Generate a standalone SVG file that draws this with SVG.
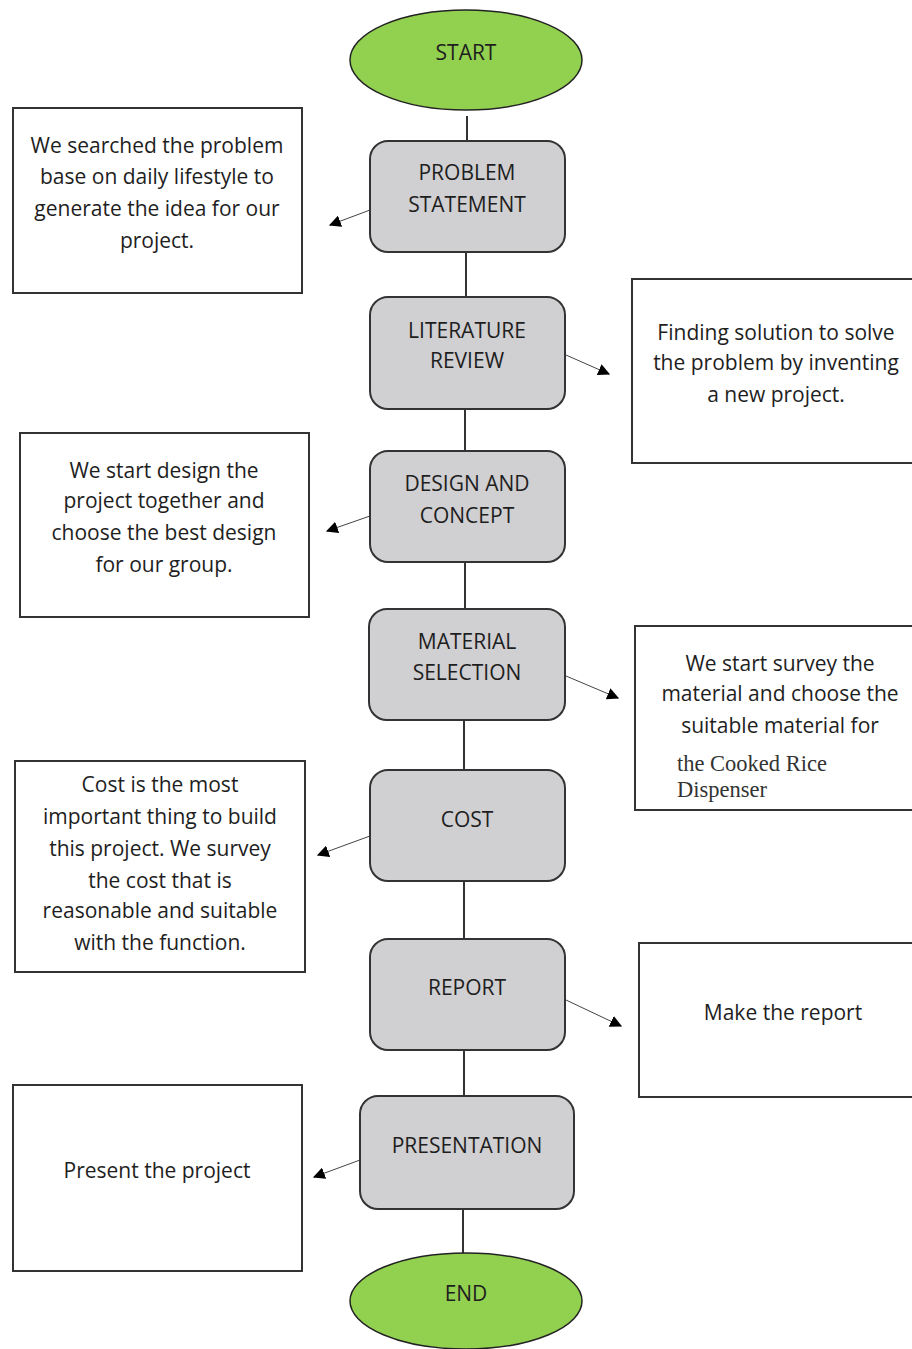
<svg xmlns="http://www.w3.org/2000/svg" width="912" height="1349" viewBox="0 0 912 1349">
<defs>
<marker id="ah" viewBox="0 0 10 10" refX="9" refY="5" markerWidth="12" markerHeight="12" markerUnits="userSpaceOnUse" orient="auto">
<path d="M0,0 L10,5 L0,10 z" fill="#000"/>
</marker>
</defs>
<style>
.term{fill:#92D050;stroke:#222;stroke-width:1.5}
.step{fill:#D0CFD1;stroke:#333;stroke-width:2}
.note{fill:#fff;stroke:#333;stroke-width:2}
.t{font-family:"Open Sans","Noto Sans","Liberation Sans",sans-serif;font-size:21px;fill:#1e1e1e;text-anchor:middle;font-weight:500}
.ts{font-family:"Liberation Serif","Times New Roman",serif;font-size:22.5px;fill:#333}
.flow{stroke:#333;stroke-width:2;fill:none}
.arr{stroke:#444;stroke-width:1;fill:none;marker-end:url(#ah)}
</style>
<rect width="912" height="1349" fill="#fff"/>
<g id="connectors">
<line class="flow" x1="467" y1="116" x2="467" y2="141"/>
<line class="flow" x1="466" y1="252" x2="466" y2="297"/>
<line class="flow" x1="465" y1="409" x2="465" y2="451"/>
<line class="flow" x1="465" y1="562" x2="465" y2="609"/>
<line class="flow" x1="464" y1="720" x2="464" y2="770"/>
<line class="flow" x1="464" y1="881" x2="464" y2="939"/>
<line class="flow" x1="464" y1="1050" x2="464" y2="1096"/>
<line class="flow" x1="463" y1="1209" x2="463" y2="1254"/>
<line class="arr" x1="370" y1="210" x2="330" y2="225"/>
<line class="arr" x1="566" y1="355" x2="609" y2="374"/>
<line class="arr" x1="370" y1="516" x2="327" y2="531"/>
<line class="arr" x1="566" y1="676" x2="618" y2="698"/>
<line class="arr" x1="370" y1="836" x2="318" y2="855"/>
<line class="arr" x1="566" y1="1000" x2="621" y2="1026"/>
<line class="arr" x1="360" y1="1160" x2="314" y2="1177"/>
</g>
<g id="start">
<ellipse class="term" cx="466" cy="60" rx="116" ry="50"/>
<text class="t" x="466" y="60">START</text>
</g>
<g id="problem-statement">
<rect class="step" x="370" y="141" width="195" height="111" rx="18"/>
<text class="t" x="467" y="180">PROBLEM</text>
<text class="t" x="467" y="212">STATEMENT</text>
</g>
<g id="literature-review">
<rect class="step" x="370" y="297" width="195" height="112" rx="18"/>
<text class="t" x="467" y="338">LITERATURE</text>
<text class="t" x="467" y="368">REVIEW</text>
</g>
<g id="design-concept">
<rect class="step" x="370" y="451" width="195" height="111" rx="18"/>
<text class="t" x="467" y="491">DESIGN AND</text>
<text class="t" x="467" y="523">CONCEPT</text>
</g>
<g id="material-selection">
<rect class="step" x="369" y="609" width="196" height="111" rx="18"/>
<text class="t" x="467" y="649">MATERIAL</text>
<text class="t" x="467" y="680">SELECTION</text>
</g>
<g id="cost">
<rect class="step" x="370" y="770" width="195" height="111" rx="18"/>
<text class="t" x="467" y="827">COST</text>
</g>
<g id="report">
<rect class="step" x="370" y="939" width="195" height="111" rx="18"/>
<text class="t" x="467" y="995">REPORT</text>
</g>
<g id="presentation">
<rect class="step" x="360" y="1096" width="214" height="113" rx="18"/>
<text class="t" x="467" y="1153">PRESENTATION</text>
</g>
<g id="end">
<ellipse class="term" cx="466" cy="1301" rx="116" ry="48"/>
<text class="t" x="466" y="1301">END</text>
</g>
<g id="note-problem">
<rect class="note" x="13" y="108" width="289" height="185"/>
<text class="t" x="157" y="153">We searched the problem</text>
<text class="t" x="157" y="184">base on daily lifestyle to</text>
<text class="t" x="157" y="216">generate the idea for our</text>
<text class="t" x="157" y="248">project.</text>
</g>
<g id="note-literature">
<rect class="note" x="632" y="279" width="285" height="184"/>
<text class="t" x="776" y="340">Finding solution to solve</text>
<text class="t" x="776" y="370">the problem by inventing</text>
<text class="t" x="776" y="402">a new project.</text>
</g>
<g id="note-design">
<rect class="note" x="20" y="433" width="289" height="184"/>
<text class="t" x="164" y="478">We start design the</text>
<text class="t" x="164" y="508">project together and</text>
<text class="t" x="164" y="540">choose the best design</text>
<text class="t" x="164" y="572">for our group.</text>
</g>
<g id="note-material">
<rect class="note" x="635" y="626" width="282" height="184"/>
<text class="t" x="780" y="671">We start survey the</text>
<text class="t" x="780" y="701">material and choose the</text>
<text class="t" x="780" y="733">suitable material for</text>
<text class="ts" x="677" y="771">the Cooked Rice</text>
<text class="ts" x="677" y="797">Dispenser</text>
</g>
<g id="note-cost">
<rect class="note" x="15" y="761" width="290" height="211"/>
<text class="t" x="160" y="792">Cost is the most</text>
<text class="t" x="160" y="824">important thing to build</text>
<text class="t" x="160" y="856">this project. We survey</text>
<text class="t" x="160" y="888">the cost that is</text>
<text class="t" x="160" y="918">reasonable and suitable</text>
<text class="t" x="160" y="950">with the function.</text>
</g>
<g id="note-report">
<rect class="note" x="639" y="943" width="278" height="154"/>
<text class="t" x="783" y="1020">Make the report</text>
</g>
<g id="note-presentation">
<rect class="note" x="13" y="1085" width="289" height="186"/>
<text class="t" x="157" y="1178">Present the project</text>
</g>
</svg>
